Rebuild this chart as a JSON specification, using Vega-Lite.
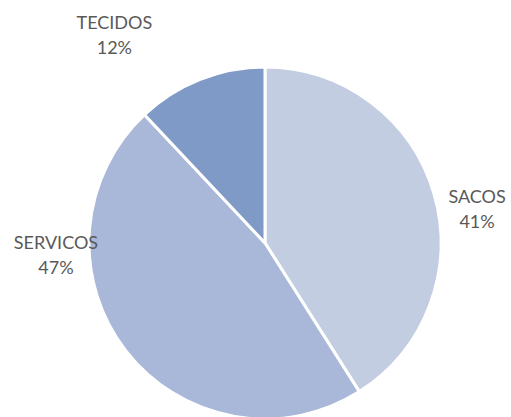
{
  "$schema": "https://vega.github.io/schema/vega-lite/v6.json",
  "autosize": "none",
  "width": 352,
  "height": 352,
  "padding": {"left": 89, "top": 67, "right": 70, "bottom": 0},
  "background": "white",
  "config": {"view": {"stroke": null}},
  "data": {
    "values": [
      {"category": "SACOS", "value": 41},
      {"category": "SERVICOS", "value": 47},
      {"category": "TECIDOS", "value": 12}
    ]
  },
  "transform": [
    {"calculate": "datum.category + '\\n' + datum.value + '%'", "as": "label"}
  ],
  "layer": [
    {
      "mark": {"type": "arc", "stroke": "white", "strokeWidth": 3, "outerRadius": 176},
      "encoding": {
        "theta": {"field": "value", "type": "quantitative", "stack": true},
        "order": {"field": "category", "sort": "ascending"},
        "color": {
          "field": "category",
          "type": "nominal",
          "scale": {"domain": ["SACOS", "SERVICOS", "TECIDOS"], "range": ["#C3CDE1", "#A9B8D8", "#7F9AC6"]},
          "legend": null
        }
      }
    },
    {
      "mark": {
        "type": "text",
        "radius": 200,
        "font": "Lato",
        "fontSize": 18,
        "fill": "#595959",
        "lineBreak": "\n",
        "lineHeight": 25,
        "align": "center",
        "baseline": "middle",
        "dx": {"expr": "datum.category == 'SACOS' ? 20 : datum.category == 'SERVICOS' ? -51 : -77"},
        "dy": {"expr": "datum.category == 'SACOS' ? 11 : datum.category == 'SERVICOS' ? -122 : -33"}
      },
      "encoding": {
        "theta": {"field": "value", "type": "quantitative", "stack": true},
        "order": {"field": "category", "sort": "ascending"},
        "detail": {"field": "category", "type": "nominal"},
        "text": {"field": "label", "type": "nominal"}
      }
    }
  ]
}
